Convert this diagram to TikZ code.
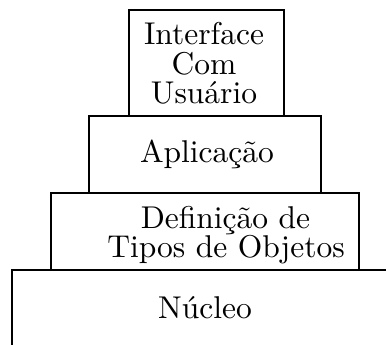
\documentclass[tikz,border=0pt]{standalone}
\newcommand{\bigtxt}[1]{\scalebox{3.15}{#1}}
\begin{document}
\begin{tikzpicture}[x=1pt,y=-1pt,
  box/.style={draw, line width=2pt, inner sep=0pt},
  lbl/.style={font=\fontsize{10}{12}\selectfont, inner sep=0pt, anchor=base}]
\useasboundingbox (0,0) rectangle (386,345);
% boxes
\node[box, minimum width=155pt, minimum height=106pt] (iface) at (206.5,63) {};
\node[box, minimum width=232pt, minimum height=77pt] (apl) at (205,154.5) {};
\node[box, minimum width=308pt, minimum height=76.5pt] (def) at (205,231.25) {};
\coordinate (nucTR) at (386,270);
\coordinate (nucTL) at (11.5,270);
\coordinate (nucBL) at (11.5,345);
\draw[line width=2pt] (nucTR) -- (nucTL) -- (nucBL);
% labels
\node[lbl] (t1) at (204,45) {\bigtxt{Interface}};
\node[lbl] (t2) at (204,75) {\bigtxt{Com}};
\node[lbl] (t3) at (204,103) {\bigtxt{Usuário}};
\node[lbl] (t4) at (207,162) {\bigtxt{Aplicação}};
\node[lbl] (t5) at (225.5,228) {\bigtxt{Definição de}};
\node[lbl] (t6) at (226,257) {\bigtxt{Tipos de Objetos}};
\node[lbl] (t7) at (205,318) {\bigtxt{Núcleo}};
\end{tikzpicture}
\end{document}
